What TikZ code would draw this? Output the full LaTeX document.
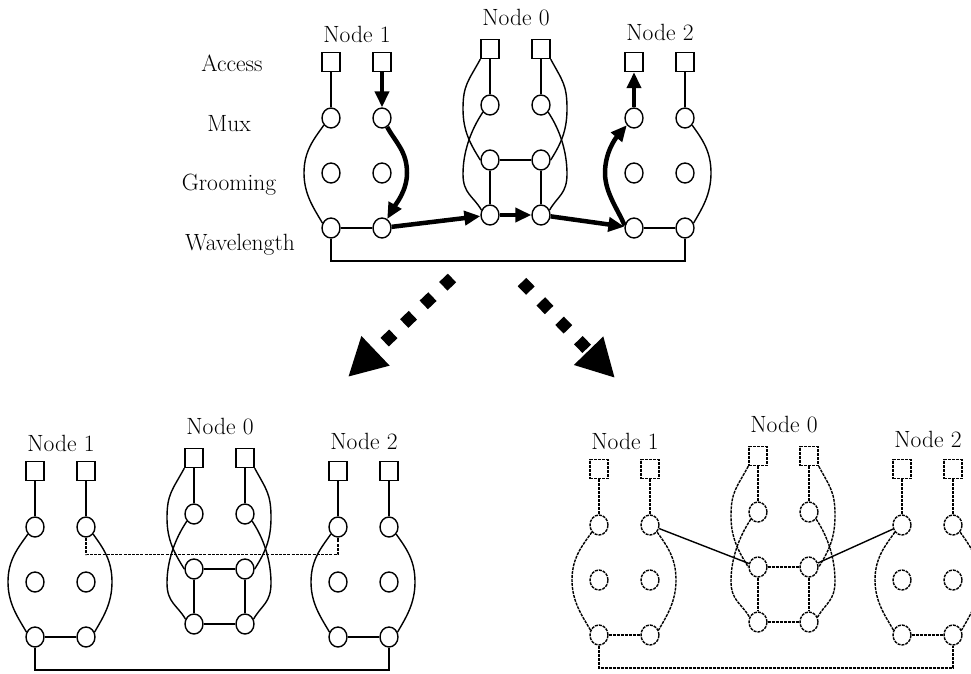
\documentclass[tikz,border=0pt]{standalone}
\usepackage{fontspec}
\usetikzlibrary{shapes.geometric,arrows.meta,calc}

\tikzset{
  acc/.style={draw, rectangle, minimum width=18pt, minimum height=19pt, inner sep=0pt},
  sw/.style={draw, ellipse, minimum width=18pt, minimum height=20pt, inner sep=0pt},
  wire/.style={line width=1.4pt},
  dwire/.style={line width=1.4pt, dash pattern=on 3pt off 1pt},
  link/.style={line width=1.1pt, dash pattern=on 3pt off 1.2pt},
  route/.style={line width=4.5pt, -{Triangle[length=16pt,width=14pt]}},
  bigarrow/.style={line width=12pt, dash pattern=on 12pt off 15pt, -{Triangle[length=38pt,width=38pt]}},
  lbl/.style={font=\fontsize{23.5}{28}\selectfont, inner sep=0pt}
}

% outer arcs of a ring node (#1 style, #2 node prefix)
\newcommand{\leftarc}[2]{\draw[#1] (#2-mux-l.225) .. controls +(-10,14) and +(0,-22) .. ($(#2-grm-l)+(-27,0)$) .. controls +(0,22) and +(-8,-14) .. (#2-wav-l.150);}
\newcommand{\rightarc}[2]{\draw[#1] (#2-mux-r.315) .. controls +(10,14) and +(0,-22) .. ($(#2-grm-r)+(26,0)$) .. controls +(0,22) and +(8,-14) .. (#2-wav-r.30);}

% one ring: #1 prefix, #2 #3 shift, #4 line style
\newcommand{\ringnet}[4]{%
\begin{scope}[shift={(#2,#3)}]
\foreach \k/\xl/\yt/\yl in {1/331/62/42, 0/490/49/25, 2/634/62/40} {
  \node[lbl, anchor=base] (#1\k-name) at (\xl+26,\yl) {Node \k};
  \node[acc,#4] (#1\k-acc-l) at (\xl,\yt) {};
  \node[acc,#4] (#1\k-acc-r) at (\xl+51,\yt) {};
  \node[sw,#4] (#1\k-mux-l) at (\xl,\yt+56) {};
  \node[sw,#4] (#1\k-mux-r) at (\xl+51,\yt+56) {};
  \node[sw,#4] (#1\k-grm-l) at (\xl,\yt+111) {};
  \node[sw,#4] (#1\k-grm-r) at (\xl+51,\yt+111) {};
  \node[sw,#4] (#1\k-wav-l) at (\xl,\yt+166) {};
  \node[sw,#4] (#1\k-wav-r) at (\xl+51,\yt+166) {};
}
% node 1
\draw[#4] (#11-acc-l) -- (#11-mux-l);
\leftarc{#4}{#11}
\draw[#4] (#11-wav-l) -- (#11-wav-r);
% node 2
\draw[#4] (#12-acc-r) -- (#12-mux-r);
\rightarc{#4}{#12}
\draw[#4] (#12-wav-l) -- (#12-wav-r);
% node 0
\draw[#4] (#10-acc-l) -- (#10-mux-l);
\draw[#4] (#10-acc-r) -- (#10-mux-r);
\draw[#4] (#10-grm-l) -- (#10-grm-r);
\draw[#4] (#10-grm-l) -- (#10-wav-l);
\draw[#4] (#10-grm-r) -- (#10-wav-r);
\draw[#4] (#10-acc-l.south west) .. controls +(-12,22) and +(0,-24) .. ($(#10-mux-l)+(-27,4)$) .. controls +(0,22) and +(-10,-16) .. (#10-grm-l.west);
\draw[#4] (#10-mux-l.225) .. controls +(-12,18) and +(0,-22) .. ($(#10-grm-l)+(-27,14)$) .. controls +(0,20) and +(-8,-14) .. (#10-wav-l.150);
\draw[#4] (#10-acc-r.south east) .. controls +(12,22) and +(0,-24) .. ($(#10-mux-r)+(26,4)$) .. controls +(0,22) and +(10,-16) .. (#10-grm-r.east);
\draw[#4] (#10-mux-r.315) .. controls +(12,18) and +(0,-22) .. ($(#10-grm-r)+(26,14)$) .. controls +(0,20) and +(8,-14) .. (#10-wav-r.30);
% fibre
\draw[#4] (#11-wav-l) -- ++(0,33) -| (#12-wav-r);
\end{scope}}

\begin{document}
\begin{tikzpicture}[x=1pt, y=-1pt]
\useasboundingbox (0,0) rectangle (971,673);

% top: routed path
\ringnet{t}{0}{0}{wire}
\node[lbl, anchor=base] (row-acc) at (232,71) {Access};
\node[lbl, anchor=base] (row-mux) at (229,131) {Mux};
\node[lbl, anchor=base] (row-grm) at (229,190) {Grooming};
\node[lbl, anchor=base] (row-wav) at (240,250) {Wavelength};

\draw[route] (t1-acc-r) -- (t1-mux-r);
\draw[route] (t1-mux-r.300) .. controls +(8,15) and +(0,-22) .. ($(t1-grm-r)+(25,0)$) .. controls +(0,18) and +(8,-14) .. (t1-wav-r.60);
\draw[route] (t1-wav-r) -- (t0-wav-l);
\draw[route] (t0-wav-l) -- (t0-wav-r);
\draw[route] (t0-wav-r) -- (t2-wav-l);
\draw[route] (t2-wav-l.165) .. controls +(-6,-15) and +(0,20) .. ($(t2-grm-l)+(-29,0)$) .. controls +(0,-20) and +(-12,14) .. (t2-mux-l.225);
\draw[route] (t2-mux-l) -- (t2-acc-l);

% split arrows
\coordinate (fan-l-from) at (452,278);
\coordinate (fan-l-to) at (348,377);
\coordinate (fan-r-from) at (522,282);
\coordinate (fan-r-to) at (615,378);
\draw[bigarrow] (fan-l-from) -- (fan-l-to);
\draw[bigarrow] (fan-r-from) -- (fan-r-to);

% bottom left
\ringnet{l}{-296}{409}{wire}
\draw[wire] (l1-acc-r) -- (l1-mux-r);
\rightarc{wire}{l1}
\draw[wire] (l2-acc-l) -- (l2-mux-l);
\leftarc{wire}{l2}
\draw[wire] (l0-wav-l) -- (l0-wav-r);
\draw[link] (l1-mux-r.south) -- ++(0,17) -| (l2-mux-l.south);

% bottom right
\ringnet{r}{268}{407}{dwire}
\draw[dwire] (r1-acc-r) -- (r1-mux-r);
\rightarc{dwire}{r1}
\draw[dwire] (r2-acc-l) -- (r2-mux-l);
\leftarc{dwire}{r2}
\draw[dwire] (r0-wav-l) -- (r0-wav-r);
\draw[wire] (r1-mux-r) -- (r0-grm-l);
\draw[wire] (r2-mux-l) -- (r0-grm-r);

\end{tikzpicture}
\end{document}
